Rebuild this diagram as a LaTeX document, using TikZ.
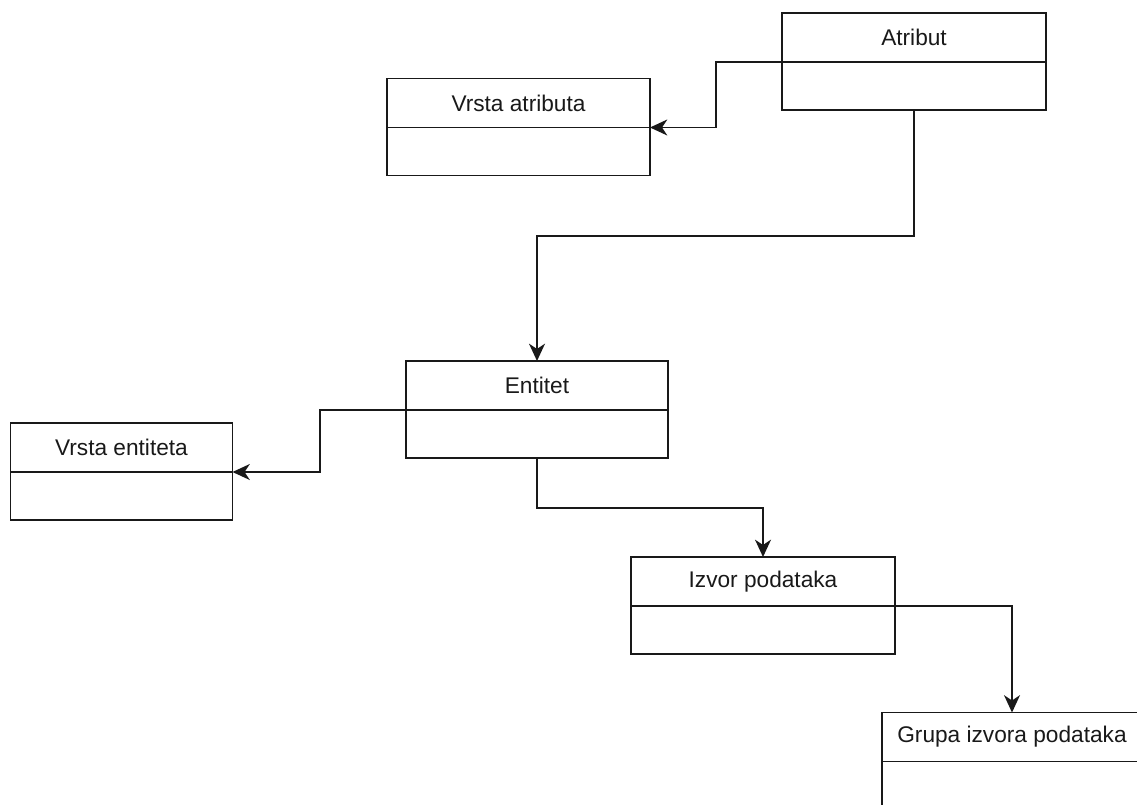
\documentclass[tikz,border=0pt]{standalone}
\usepackage{fontspec}
\setmainfont{Liberation Sans}
\usetikzlibrary{positioning,arrows.meta}
\begin{document}
\begin{tikzpicture}[x=0.75pt,y=-0.75pt,
  hdr/.style={draw=black!90,line width=1.2pt,inner sep=0pt,outer sep=0pt,minimum height=36.75pt,font=\fontsize{17}{20}\selectfont,text=black!90},
  bdy/.style={draw=black!90,line width=1.2pt,inner sep=0pt,outer sep=0pt,minimum height=36pt},
  conn/.style={draw=black!90,line width=1.2pt,-{Stealth[length=13pt,width=12pt,inset=4pt]}}]
\clip (0,0) rectangle (1137,805);
\node[hdr,minimum width=198pt] (atr) at (914,37.5) {Atribut};
\node[bdy,minimum width=198pt,below=0pt of atr] (atrb) {};
\node[hdr,minimum width=197.25pt] (vat) at (518.5,103) {Vrsta atributa};
\node[bdy,minimum width=197.25pt,below=0pt of vat] (vatb) {};
\node[hdr,minimum width=196.5pt] (ent) at (537,385.5) {Entitet};
\node[bdy,minimum width=196.5pt,below=0pt of ent] (entb) {};
\node[hdr,minimum width=166.5pt] (ven) at (121.5,447.5) {Vrsta entiteta};
\node[bdy,minimum width=166.5pt,below=0pt of ven] (venb) {};
\node[hdr,minimum width=198pt] (izv) at (763,581.5) {Izvor podataka};
\node[bdy,minimum width=198pt,below=0pt of izv] (izvb) {};
\node[hdr,minimum width=195pt] (grp) at (1012,737) {Grupa izvora podataka};
\node[bdy,minimum width=195pt,below=0pt of grp] (grpb) {};
\draw[conn] (atr.south west) -- ++(-66,0) |- (vat.south east);
\draw[conn] (atrb.south) -- ++(0,126) -| (ent.north);
\draw[conn] (ent.south west) -- ++(-86,0) |- (ven.south east);
\draw[conn] (entb.south) -- ++(0,50) -| (izv.north);
\draw[conn] (izv.south east) -| (grp.north);
\end{tikzpicture}
\end{document}
